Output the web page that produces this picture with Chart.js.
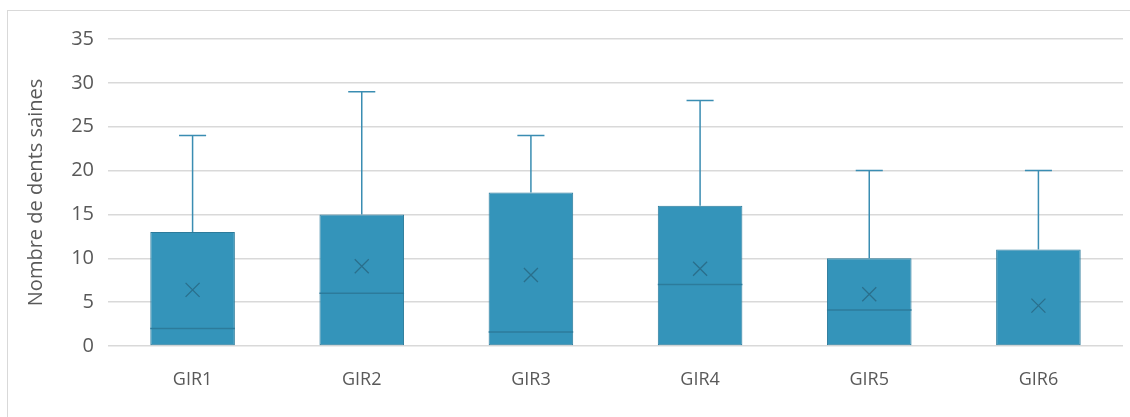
<!DOCTYPE html>
<html>
<head>
<meta charset="utf-8">
<script src="https://cdn.jsdelivr.net/npm/chart.js@4/dist/chart.umd.min.js"></script>
<style>
  html, body { margin: 0; padding: 0; background: #fff; }
  #wrap { position: relative; width: 1130px; height: 417px; overflow: hidden; }
  #frame { position: absolute; left: 7px; top: 10px; width: 1140px; height: 420px; border: 1px solid #d9d9d9; box-sizing: border-box; }
  #box { position: absolute; left: 0; top: 0; width: 1130px; height: 417px; }
</style>
</head>
<body>
<div id="wrap">
  <div id="frame"></div>
  <div id="box"><canvas id="chart"></canvas></div>
</div>
<script>
// Données
const categories = ["GIR1", "GIR2", "GIR3", "GIR4", "GIR5", "GIR6"];
const minValues = [0, 0, 0, 0, 0, 0];
const q1Values = [0, 0, 0, 0, 0, 0];
const medianValues = [2, 6, 1.6, 7, 4.1, 0];
const q3Values = [13, 15, 17.5, 16, 10, 11];
const maxValues = [24, 29, 24, 28, 20, 20];
const meanValues = [6.4, 9.1, 8.1, 8.8, 5.9, 4.6];

const boxFill = "#3494ba";
const boxLine = "#2c7b9b";
const whiskerColor = "#3a8db2";

// Moustaches, médiane et moyenne dessinées avec les échelles du graphique
const boxPlotExtras = {
  id: "boxPlotExtras",
  afterDatasetsDraw(chart) {
    const { ctx, scales } = chart;
    const x = scales.x;
    const y = scales.y;
    const meta = chart.getDatasetMeta(0);
    ctx.save();
    categories.forEach((cat, i) => {
      const bar = meta.data[i];
      const cx = x.getPixelForValue(i);
      const half = bar.width / 2;
      const cap = bar.width * 0.16;

      // moustache haute
      ctx.strokeStyle = whiskerColor;
      ctx.lineWidth = 1.5;
      ctx.beginPath();
      ctx.moveTo(cx, y.getPixelForValue(q3Values[i]));
      ctx.lineTo(cx, y.getPixelForValue(maxValues[i]));
      ctx.moveTo(cx - cap, y.getPixelForValue(maxValues[i]));
      ctx.lineTo(cx + cap, y.getPixelForValue(maxValues[i]));
      // moustache basse
      if (minValues[i] < q1Values[i]) {
        ctx.moveTo(cx, y.getPixelForValue(q1Values[i]));
        ctx.lineTo(cx, y.getPixelForValue(minValues[i]));
        ctx.moveTo(cx - cap, y.getPixelForValue(minValues[i]));
        ctx.lineTo(cx + cap, y.getPixelForValue(minValues[i]));
      }
      ctx.stroke();

      // médiane
      if (medianValues[i] > q1Values[i]) {
        ctx.strokeStyle = boxLine;
        ctx.lineWidth = 1.5;
        ctx.beginPath();
        const my = y.getPixelForValue(medianValues[i]);
        ctx.moveTo(cx - half, my);
        ctx.lineTo(cx + half, my);
        ctx.stroke();
      }

      // moyenne (croix)
      const ey = y.getPixelForValue(meanValues[i]);
      const s = 7;
      ctx.strokeStyle = "#2a6f8c";
      ctx.lineWidth = 1.3;
      ctx.beginPath();
      ctx.moveTo(cx - s, ey - s);
      ctx.lineTo(cx + s, ey + s);
      ctx.moveTo(cx + s, ey - s);
      ctx.lineTo(cx - s, ey + s);
      ctx.stroke();
    });
    ctx.restore();
  },
};

const ctx = document.getElementById("chart").getContext("2d");
const chart = new Chart(ctx, {
  type: "bar",
  data: {
    labels: categories,
    datasets: [
      {
        label: "Nombre de dents saines",
        data: q1Values.map((q1, i) => [q1, q3Values[i]]),
        backgroundColor: boxFill,
        borderColor: boxLine,
        borderWidth: 1,
        borderSkipped: false,
        categoryPercentage: 1,
        barPercentage: 0.5,
      },
    ],
  },
  options: {
    responsive: true,
    maintainAspectRatio: false,
    animation: false,
    layout: { padding: { top: 39, right: 7, bottom: 0, left: 24 } },
    plugins: {
      legend: { display: false },
      tooltip: { enabled: false },
    },
    scales: {
      x: {
        grid: { display: false, drawTicks: false },
        border: { display: false },
        ticks: {
          color: "#595959",
          font: { family: "Open Sans", size: 18 },
          padding: 23,
        },
        afterFit: (scale) => { scale.height = 71; },
      },
      y: {
        min: 0,
        max: 35,
        ticks: {
          stepSize: 5,
          color: "#595959",
          font: { family: "Open Sans", size: 20 },
          padding: 14,
        },
        grid: { color: "#d9d9d9", lineWidth: 1.5, drawTicks: false },
        border: { display: false },
        title: {
          display: true,
          text: "Nombre de dents saines",
          color: "#595959",
          font: { family: "Open Sans", size: 20 },
          padding: { top: 0, bottom: 5 },
        },
        afterFit: (scale) => { scale.width = 84; },
      },
    },
  },
  plugins: [boxPlotExtras],
});
</script>
</body>
</html>
